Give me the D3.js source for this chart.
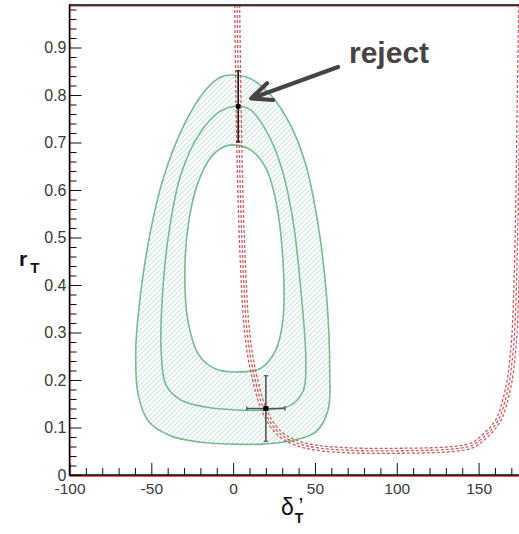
<!DOCTYPE html>
<html>
<head>
<meta charset="utf-8">
<script src="https://cdn.jsdelivr.net/npm/d3@7"></script>
<style>
  body { margin: 0; background: #fff; }
  svg { display: block; }
  text { font-family: "Liberation Sans", Arial, sans-serif; }
</style>
</head>
<body>
<svg id="chart" width="519" height="534"></svg>
<script>
// ---- data -------------------------------------------------------------
const xTicks = [-100, -50, 0, 50, 100, 150];
const yTicks = [0, 0.1, 0.2, 0.3, 0.4, 0.5, 0.6, 0.7, 0.8, 0.9];
const xMinorStep = 10;
const yMinorStep = 0.02;

// confidence contours in the (delta_T', r_T) plane, [delta, r]
const outerContour = [
  [0.4, 0.842], [10.8, 0.834], [23, 0.80], [35, 0.737], [44.4, 0.653],
  [52.4, 0.516], [57.3, 0.368], [59, 0.221], [58, 0.137], [50.6, 0.091],
  [35.3, 0.072], [17, 0.065], [0, 0.065], [-19.7, 0.069], [-38, 0.082],
  [-51.5, 0.112], [-58, 0.168], [-59.5, 0.263], [-57, 0.368], [-51.5, 0.495],
  [-43, 0.621], [-30, 0.737], [-17, 0.81], [-7.5, 0.838]
];
const middleContour = [
  [3, 0.777], [10.8, 0.768], [20, 0.726], [29, 0.653], [36.5, 0.537],
  [41.4, 0.389], [44.4, 0.242], [43, 0.179], [35.3, 0.147], [20, 0.137],
  [1.6, 0.137], [-16.7, 0.143], [-32, 0.158], [-41, 0.189], [-44, 0.263],
  [-43, 0.389], [-39, 0.516], [-32, 0.632], [-21, 0.716], [-8.7, 0.764]
];
const innerContour = [
  [0, 0.695], [10.8, 0.684], [20, 0.646], [26, 0.579], [30.4, 0.453],
  [30.4, 0.326], [26, 0.263], [17, 0.225], [2.9, 0.217], [-10.6, 0.223],
  [-21, 0.253], [-27.7, 0.326], [-29.5, 0.432], [-27, 0.537], [-21.5, 0.615],
  [-13.6, 0.669], [-6.2, 0.69]
];

// theory constraint (central curve); drawn as a band of three dashed lines
const constraintCurve = [
  [2.4, 1.0], [3.0, 0.85], [3.7, 0.70], [4.8, 0.55], [6.3, 0.42], [8.0, 0.32],
  [10.5, 0.25], [13.5, 0.20], [17.5, 0.15], [23, 0.11], [30, 0.083],
  [40, 0.066], [52, 0.057], [65, 0.053], [80, 0.051], [100, 0.051],
  [120, 0.052], [135, 0.055], [145, 0.061], [150, 0.071], [156, 0.089],
  [160, 0.105], [163, 0.122], [166.5, 0.16], [169, 0.20], [170.5, 0.24],
  [172, 0.30], [173.3, 0.42], [174.3, 0.58], [175, 0.75], [175.5, 0.874],
  [176.2, 1.0]
];
const constraintOffsets = [-2.5, 0, 2.5];

// measured points with errors
const measurements = [
  { delta: 3.1, r: 0.776, deltaErr: 0, rErr: 0.075 },
  { delta: 20, r: 0.14, deltaErr: 11.7, rErr: 0.069 }
];

const annotationText = "reject";

// ---- layout -----------------------------------------------------------
const svg = d3.select("#chart");
const plotLeft = 69.5, plotRight = 519.5, plotTop = 5, plotBottom = 475;
const x = d3.scaleLinear().domain([-100, 175]).range([plotLeft, plotRight]);
const y = d3.scaleLinear().domain([0, 0.9895]).range([plotBottom, plotTop]);

const defs = svg.append("defs");
defs.append("clipPath").attr("id", "plotClip")
  .append("rect").attr("x", plotLeft).attr("y", plotTop)
  .attr("width", plotRight - plotLeft).attr("height", plotBottom - plotTop);

const hatch = defs.append("pattern").attr("id", "hatch")
  .attr("patternUnits", "userSpaceOnUse").attr("width", 5).attr("height", 5);
hatch.append("path")
  .attr("d", "M-1,1 l2,-2 M0,5 l5,-5 M4,6 l2,-2")
  .attr("stroke", "#cbe7d8").attr("stroke-width", 1.1);

const plot = svg.append("g").attr("clip-path", "url(#plotClip)");

const closedLine = d3.line().x(d => x(d[0])).y(d => y(d[1]))
  .curve(d3.curveCatmullRomClosed.alpha(0.5));

// hatched ring between outer and inner contours
plot.append("path")
  .attr("d", closedLine(outerContour) + closedLine(innerContour))
  .attr("fill", "url(#hatch)").attr("fill-rule", "evenodd");

[outerContour, middleContour, innerContour].forEach(c => {
  plot.append("path").attr("d", closedLine(c))
    .attr("fill", "none").attr("stroke", "#74bb96").attr("stroke-width", 1.6);
});

// constraint band: sample the smooth central curve, then offset along normals
const openLine = d3.line().x(d => x(d[0])).y(d => y(d[1]))
  .curve(d3.curveCatmullRom.alpha(0.5));
const guide = svg.append("path").attr("d", openLine(constraintCurve))
  .attr("fill", "none").attr("stroke", "none");
const gNode = guide.node();
const totalLen = gNode.getTotalLength();
const nSamples = 600;
const samples = d3.range(nSamples + 1).map(i => {
  const p = gNode.getPointAtLength(totalLen * i / nSamples);
  return [p.x, p.y];
});
guide.remove();
const normals = samples.map((p, i) => {
  const a = samples[Math.max(0, i - 1)], b = samples[Math.min(nSamples, i + 1)];
  const dx = b[0] - a[0], dy = b[1] - a[1];
  const len = Math.hypot(dx, dy) || 1;
  return [-dy / len, dx / len];
});
constraintOffsets.forEach(off => {
  const pts = samples.map((p, i) => [p[0] + normals[i][0] * off, p[1] + normals[i][1] * off]);
  plot.append("path").attr("d", d3.line()(pts))
    .attr("fill", "none").attr("stroke", "#d45a5f").attr("stroke-width", 1.3)
    .attr("stroke-dasharray", "3,2");
});

// ---- frame and axes ---------------------------------------------------
const frame = svg.append("g");
frame.append("line").attr("x1", plotLeft).attr("x2", plotRight).attr("y1", plotTop + 1.2).attr("y2", plotTop + 1.2)
  .attr("stroke", "#d46a6a").attr("stroke-width", 1);
frame.append("line").attr("x1", plotLeft).attr("x2", plotRight).attr("y1", plotBottom + 1.2).attr("y2", plotBottom + 1.2)
  .attr("stroke", "#e02020").attr("stroke-width", 1.2);
frame.append("line").attr("x1", plotLeft + 1.2).attr("x2", plotLeft + 1.2).attr("y1", plotTop).attr("y2", plotBottom)
  .attr("stroke", "#d46a6a").attr("stroke-width", 0.8);

const xMinor = d3.range(-100, 176, xMinorStep).filter(v => !xTicks.includes(v));
const yMinor = d3.range(0, 0.99, yMinorStep).map(v => +v.toFixed(2))
  .filter(v => !yTicks.some(t => Math.abs(t - v) < 1e-6));

const xAxisMinor = svg.append("g").attr("transform", `translate(0,${plotBottom})`)
  .call(d3.axisBottom(x).tickValues(xMinor).tickSize(-7).tickFormat(""));
const xAxis = svg.append("g").attr("transform", `translate(0,${plotBottom})`)
  .call(d3.axisBottom(x).tickValues(xTicks).tickSize(-12).tickPadding(8)
    .tickFormat(d => String(d)));
const yAxisMinor = svg.append("g").attr("transform", `translate(${plotLeft},0)`)
  .call(d3.axisLeft(y).tickValues(yMinor).tickSize(-7).tickFormat(""));
const yAxis = svg.append("g").attr("transform", `translate(${plotLeft},0)`)
  .call(d3.axisLeft(y).tickValues(yTicks).tickSize(-12).tickPadding(3)
    .tickFormat(d => d === 0 ? "0" : d3.format(".1f")(d)));

[xAxisMinor, xAxis, yAxisMinor, yAxis].forEach(g => {
  g.select(".domain").remove();
  g.selectAll(".tick line").attr("stroke", "#111").attr("stroke-width", 1);
});
xAxis.selectAll("text").attr("font-size", 15.5).attr("fill", "#3a3a3a")
  .attr("font-family", "'Liberation Sans', Arial, sans-serif");
yAxis.selectAll("text").attr("font-size", 16).attr("fill", "#3a3a3a")
  .attr("font-family", "'Liberation Sans', Arial, sans-serif");

frame.append("line").attr("x1", plotLeft).attr("x2", plotRight).attr("y1", plotTop).attr("y2", plotTop)
  .attr("stroke", "#000").attr("stroke-width", 1.5);
svg.append("line").attr("x1", plotLeft).attr("x2", plotRight).attr("y1", plotBottom).attr("y2", plotBottom)
  .attr("stroke", "#000").attr("stroke-width", 1.6);
svg.append("line").attr("x1", plotLeft).attr("x2", plotLeft).attr("y1", plotTop - 0.7).attr("y2", plotBottom + 0.8)
  .attr("stroke", "#000").attr("stroke-width", 1.5);

// ---- measurements with error bars ------------------------------------
const cap = 2.2;
measurements.forEach((m, i) => {
  const g = svg.append("g");
  const col = i === 0 ? "#2a1414" : "#555";
  const cx = x(m.delta), cy = y(m.r);
  const y0 = y(m.r - m.rErr), y1 = y(m.r + m.rErr);
  g.append("line").attr("x1", cx).attr("x2", cx).attr("y1", y0).attr("y2", y1)
    .attr("stroke", col).attr("stroke-width", 1.6);
  [y0, y1].forEach(yy => g.append("line").attr("x1", cx - cap).attr("x2", cx + cap)
    .attr("y1", yy).attr("y2", yy).attr("stroke", col).attr("stroke-width", 1.2));
  if (m.deltaErr > 0) {
    const x0 = x(m.delta - m.deltaErr), x1 = x(m.delta + m.deltaErr);
    g.append("line").attr("x1", x0).attr("x2", x1).attr("y1", cy).attr("y2", cy)
      .attr("stroke", col).attr("stroke-width", 1.6);
    [x0, x1].forEach(xx => g.append("line").attr("x1", xx).attr("x2", xx)
      .attr("y1", cy - cap).attr("y2", cy + cap).attr("stroke", col).attr("stroke-width", 1.2));
  }
  const s = i === 0 ? 4.5 : 5;
  g.append("rect").attr("x", cx - s / 2).attr("y", cy - s / 2)
    .attr("width", s).attr("height", s).attr("fill", "#000");
});

// ---- annotation -------------------------------------------------------
const arrowTip = [x(measurements[0].delta) + 13, y(measurements[0].r) - 8];
const arrowTail = [338, 67];
const ang = Math.atan2(arrowTail[1] - arrowTip[1], arrowTail[0] - arrowTip[0]);
const headLen = 22, headAng = 0.42;
const ann = svg.append("g").attr("stroke", "#474343").attr("stroke-width", 4.2)
  .attr("fill", "none").attr("stroke-linecap", "round").attr("stroke-linejoin", "round");
ann.append("line").attr("x1", arrowTail[0]).attr("y1", arrowTail[1])
  .attr("x2", arrowTip[0] + 2 * Math.cos(ang)).attr("y2", arrowTip[1] + 2 * Math.sin(ang));
ann.append("path").attr("d", d3.line()([
  [arrowTip[0] + headLen * Math.cos(ang - headAng), arrowTip[1] + headLen * Math.sin(ang - headAng)],
  arrowTip,
  [arrowTip[0] + headLen * Math.cos(ang + headAng), arrowTip[1] + headLen * Math.sin(ang + headAng)]
]));
svg.append("text").attr("x", 349).attr("y", 63).text(annotationText)
  .attr("font-size", 30).attr("font-weight", "bold").attr("fill", "#474343");

// ---- axis titles ------------------------------------------------------
const yTitle = svg.append("text").attr("x", 19).attr("y", 266).attr("fill", "#111")
  .attr("font-weight", "bold");
yTitle.append("tspan").attr("font-size", 21).text("r");
yTitle.append("tspan").attr("font-size", 15).attr("dx", 3).attr("dy", 7).text("T");

const xTitle = svg.append("text").attr("x", 281).attr("y", 515).attr("fill", "#111");
xTitle.append("tspan").attr("font-size", 23).text("δ");
xTitle.append("tspan").attr("font-size", 14).attr("font-weight", "bold")
  .attr("dx", 1).attr("dy", 8).text("T");
xTitle.append("tspan").attr("font-size", 22).attr("dx", -5).attr("dy", -10).text("’");
</script>
</body>
</html>
